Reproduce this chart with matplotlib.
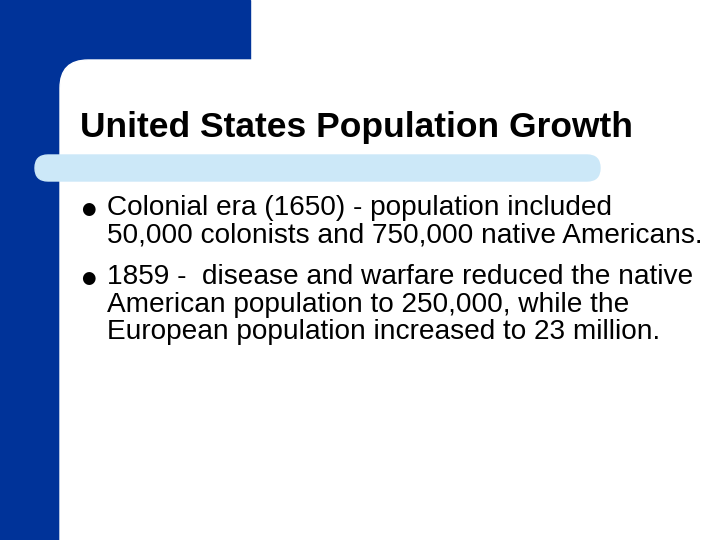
import matplotlib.pyplot as plt
from matplotlib.patches import Rectangle, FancyBboxPatch

title = 'United States Population Growth'
bullet_lines = [
    ['Colonial era (1650) - population included',
     '50,000 colonists and 750,000 native Americans.'],
    ['1859 -  disease and warfare reduced the native',
     'American population to 250,000, while the',
     'European population increased to 23 million.'],
]

dark_blue = '#003399'
light_blue = '#cce8f8'

fig = plt.figure(figsize=(7.2, 5.4), dpi=100)
ax = fig.add_axes([0, 0, 1, 1])
ax.set_xlim(0, 720)
ax.set_ylim(540, 0)
ax.axis('off')

# blue frame
ax.add_patch(Rectangle((0, 0), 250, 120, color=dark_blue))
ax.add_patch(Rectangle((0, 0), 60, 540, color=dark_blue))
ax.add_patch(FancyBboxPatch((60, 60), 800, 600,
                            boxstyle='round,pad=0,rounding_size=28',
                            color='white', zorder=2))

# light blue bar under the title
ax.add_patch(FancyBboxPatch((35, 155), 565, 26,
                            boxstyle='round,pad=0,rounding_size=13',
                            color=light_blue, zorder=3))

ax.text(80, 127, title, fontsize=25.5, fontweight='bold',
        family='Liberation Sans', va='center', zorder=4)

y = 208
step = 27.5
para_gap = 14
for lines in bullet_lines:
    ax.text(88, y + 1, '\u25cf', fontsize=12, family='DejaVu Sans',
            va='center', ha='center', zorder=4)
    for line in lines:
        ax.text(107, y, line, fontsize=20.2, family='Liberation Sans',
                va='center', zorder=4)
        y += step
    y += para_gap

fig.savefig('out.png', dpi=100)
